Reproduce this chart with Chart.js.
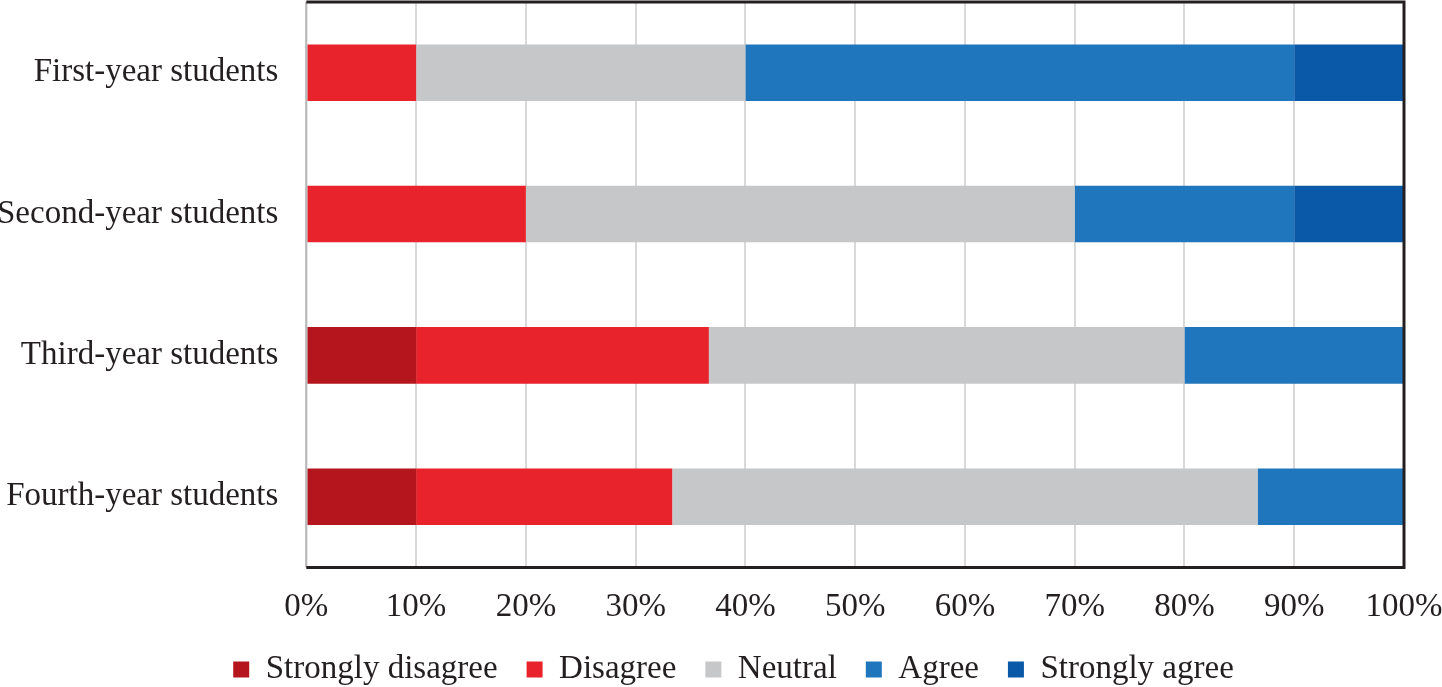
<!DOCTYPE html>
<html>
<head>
<meta charset="utf-8">
<script src="https://cdn.jsdelivr.net/npm/chart.js@4/dist/chart.umd.min.js"></script>
<style>
  html, body { margin: 0; padding: 0; background: #fff; }
  #wrap { width: 1442px; height: 687px; position: relative; }
</style>
</head>
<body>
<div id="wrap"><canvas id="c"></canvas></div>
<script>
const categories = ["First-year students", "Second-year students", "Third-year students", "Fourth-year students"];
const seriesNames = ["Strongly disagree", "Disagree", "Neutral", "Agree", "Strongly agree"];
const stronglyDisagree = [0, 0, 10, 10];
const disagree = [10, 20, 26.67, 23.33];
const neutral = [30, 50, 43.33, 53.33];
const agree = [50, 20, 20, 13.33];
const stronglyAgree = [10, 10, 0, 0];
const tickLabels = ["0%", "10%", "20%", "30%", "40%", "50%", "60%", "70%", "80%", "90%", "100%"];
const colors = ["#B5161E", "#E8232B", "#C6C7C9", "#1F76BC", "#0A58A8"];

const seriesValues = [stronglyDisagree, disagree, neutral, agree, stronglyAgree];
const FONT = "'Liberation Serif', 'Times New Roman', serif";
const TEXT = "#231F20";
const LEGEND_LIFT = 23;
const LEGEND_SHIFT = 47;

const frame = {
  id: 'frame',
  afterLayout(chart) {
    if (chart.legend) {
      chart.legend.top -= LEGEND_LIFT;
      chart.legend.bottom -= LEGEND_LIFT;
      chart.legend.left += LEGEND_SHIFT;
      chart.legend.right += LEGEND_SHIFT;
    }
  },
  afterDatasetsDraw(chart) {
    const a = chart.chartArea, ctx = chart.ctx;
    ctx.save();
    ctx.lineWidth = 2;
    ctx.strokeStyle = "#B8B8B8";
    ctx.beginPath(); ctx.moveTo(a.left, a.top); ctx.lineTo(a.left, a.bottom); ctx.stroke();
    ctx.strokeStyle = "#231F20";
    ctx.lineWidth = 3;
    ctx.beginPath();
    ctx.moveTo(a.left, a.top); ctx.lineTo(a.right, a.top); ctx.lineTo(a.right, a.bottom); ctx.lineTo(a.left, a.bottom);
    ctx.stroke();
    ctx.restore();
  }
};

new Chart(document.getElementById('c'), {
  type: 'bar',
  data: {
    labels: categories,
    datasets: seriesNames.map((n, i) => ({
      label: n,
      data: seriesValues[i],
      backgroundColor: colors[i],
      borderWidth: 0,
      barPercentage: 0.4,
      categoryPercentage: 1.0
    }))
  },
  options: {
    indexAxis: 'y',
    responsive: true,
    maintainAspectRatio: false,
    animation: false,
    layout: { padding: { top: 2, right: 38, left: -31, bottom: -32 } },
    scales: {
      x: {
        stacked: true,
        min: 0, max: 100,
        ticks: {
          stepSize: 10,
          color: TEXT,
          font: { family: FONT, size: 33 },
          padding: 20,
          callback: (v, i) => tickLabels[i]
        },
        grid: { color: "#D9D9D9", lineWidth: 2, drawTicks: false },
        border: { display: false },
        afterFit(s) { s.paddingRight = 0; s.paddingLeft = 0; }
      },
      y: {
        stacked: true,
        ticks: {
          color: TEXT,
          font: { family: FONT, size: 33 },
          padding: 28
        },
        grid: { display: false, drawTicks: false },
        border: { display: false },
        afterFit(s) { s.paddingTop = 0; s.paddingBottom = 0; }
      }
    },
    plugins: {
      legend: {
        position: 'bottom',
        labels: {
          color: TEXT,
          font: { family: FONT, size: 33 },
          boxWidth: 16,
          boxHeight: 16,
          padding: 29
        }
      },
      tooltip: { enabled: false }
    }
  },
  plugins: [frame]
});
</script>
</body>
</html>
